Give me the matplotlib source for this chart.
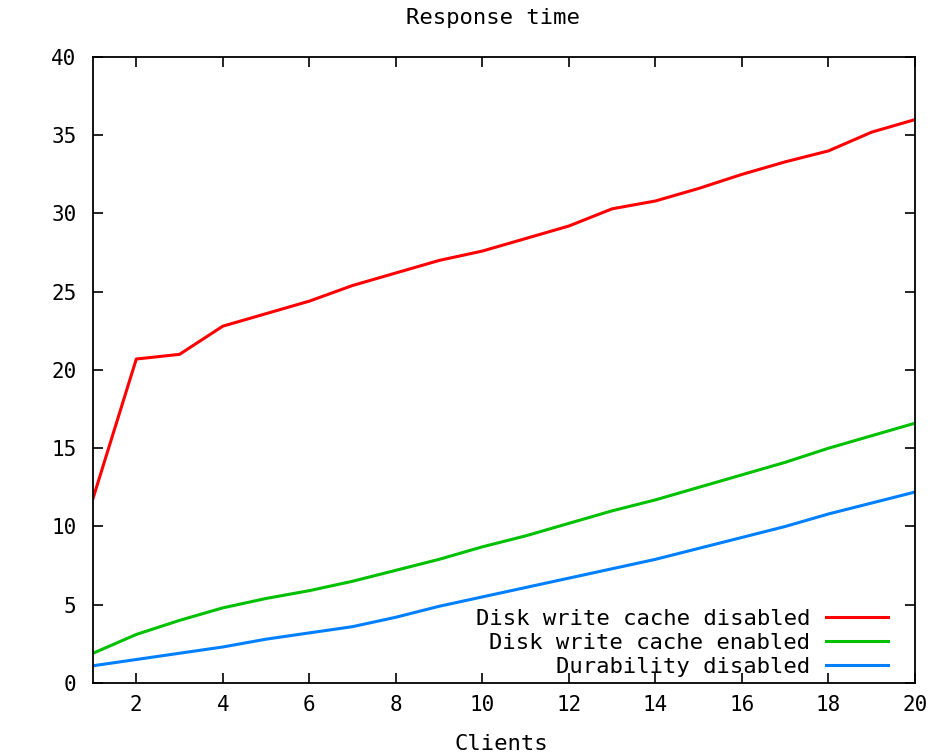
import matplotlib
matplotlib.use("Agg")
import matplotlib.pyplot as plt

clients = list(range(1, 21))
cache_disabled = [11.8, 20.7, 21.0, 22.8, 23.6, 24.4, 25.4, 26.2, 27.0, 27.6,
                  28.4, 29.2, 30.3, 30.8, 31.6, 32.5, 33.3, 34.0, 35.2, 36.0]
cache_enabled = [1.9, 3.1, 4.0, 4.8, 5.4, 5.9, 6.5, 7.2, 7.9, 8.7,
                 9.4, 10.2, 11.0, 11.7, 12.5, 13.3, 14.1, 15.0, 15.8, 16.6]
durability_off = [1.1, 1.5, 1.9, 2.3, 2.8, 3.2, 3.6, 4.2, 4.9, 5.5,
                  6.1, 6.7, 7.3, 7.9, 8.6, 9.3, 10.0, 10.8, 11.5, 12.2]
labels = ["Disk write cache disabled", "Disk write cache enabled", "Durability disabled"]
colors = ["#ff0000", "#00c000", "#0080ff"]

plt.rcParams['font.family'] = ['DejaVu Sans Mono']
plt.rcParams['font.size'] = 15

fig = plt.figure(figsize=(9.37, 7.55), dpi=100)
ax = fig.add_axes([0.0993, 0.0954, 0.8772, 0.8291])

for ys, lab, c in zip([cache_disabled, cache_enabled, durability_off], labels, colors):
    ax.plot(clients, ys, color=c, lw=2.2, label=lab)

ax.set_xlim(1, 20)
ax.set_ylim(0, 40)
ax.set_xticks(range(2, 21, 2))
ax.set_yticks(range(0, 41, 5))
ax.tick_params(direction='in', top=True, right=True, length=7, width=1.2,
               labelsize=15)
ax.tick_params(axis='y', pad=12)
ax.tick_params(axis='x', pad=9)
for s in ax.spines.values():
    s.set_linewidth(1.3)

fig.text(0.5256, 1 - 18 / 755, "Response time", ha='center', va='center', fontsize=16)
fig.text(0.535, 1 - 744 / 755, "Clients", ha='center', va='center', fontsize=16)

leg = ax.legend(loc='lower right', frameon=False, markerfirst=False,
                handlelength=2.8, handletextpad=0.7, labelspacing=0.18,
                fontsize=16, borderaxespad=0.0, borderpad=0.0,
                bbox_to_anchor=(888 / 937, 78 / 755), bbox_transform=fig.transFigure)
for t in leg.get_texts():
    t.set_ha('right')
leg._legend_box.align = 'right'

fig.savefig("out.png", dpi=100)
